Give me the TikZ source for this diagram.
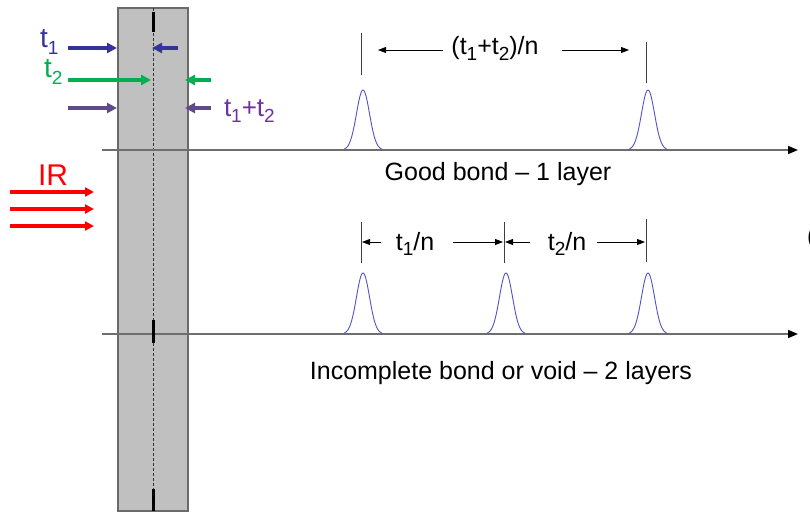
\documentclass[tikz,border=0pt]{standalone}
\usepackage{fontspec}
\setmainfont{Liberation Sans}
\usetikzlibrary{arrows.meta}
\definecolor{slabfill}{HTML}{C0C0C0}
\definecolor{slabedge}{HTML}{6A6A6A}
\definecolor{axisgray}{HTML}{6E6E6E}
\definecolor{pulseblue}{HTML}{5252C2}
\definecolor{tonecol}{HTML}{333399}
\definecolor{ttwocol}{HTML}{00B050}
\definecolor{sumarrow}{HTML}{5F4B8B}
\definecolor{sumtext}{HTML}{7030A0}
\definecolor{irred}{HTML}{FF0000}
\newcommand{\sbs}[1]{\raisebox{-0.22em}{\fontsize{19}{20}\selectfont #1}}
\begin{document}
\begin{tikzpicture}[x=1pt,y=-1pt,
  every node/.style={inner sep=0pt, outer sep=0pt},
  txt/.style={font=\fontsize{25}{30}\selectfont, anchor=base},
  axisline/.style={draw=axisgray, line width=1.5pt, -{Triangle[length=10pt,width=8pt,fill=black,color=black]}},
  pulse/.style={draw=pulseblue, line width=0.9pt},
  tickline/.style={draw=black!75, line width=0.9pt},
  dimarrow/.style={draw=black, line width=0.9pt, -{Triangle[length=8pt,width=6pt]}},
  colarrow/.style={line width=3.4pt, -{Triangle[length=10pt,width=10pt]}},
  irarrow/.style={draw=irred, line width=3.2pt, -{Triangle[length=9pt,width=9pt]}}
]
\useasboundingbox (0,0) rectangle (810,513);

% slab
\path[draw=slabedge, fill=slabfill, line width=1.2pt] (118,8) rectangle (188,511);
\coordinate (midtop) at (153,8);
\coordinate (midbot) at (153,511);
\draw[black!80, line width=0.8pt, dash pattern=on 3pt off 2pt] (midtop) -- (midbot);

% axes
\coordinate (axAs) at (102,150);
\coordinate (axAe) at (798,150);
\coordinate (axBs) at (102,334);
\coordinate (axBe) at (798,334);
\draw[axisline] (axAs) -- (axAe);
\draw[axisline] (axBs) -- (axBe);

% thick marks on the centre line
\coordinate (m1a) at (153,12);  \coordinate (m1b) at (153,32);
\coordinate (m2a) at (153,320); \coordinate (m2b) at (153,343);
\coordinate (m3a) at (153,489); \coordinate (m3b) at (153,511);
\draw[black, line width=3pt] (m1a) -- (m1b);
\draw[black, line width=3pt] (m2a) -- (m2b);
\draw[black, line width=3pt] (m3a) -- (m3b);

% pulses
\foreach \c in {363,648}{
  \draw[pulse] plot[domain=-19:19, samples=60, smooth] ({\c+\x},{150-60*exp(-(\x*\x)/85)});
}
\foreach \c in {363,506,648}{
  \draw[pulse] plot[domain=-19:19, samples=60, smooth] ({\c+\x},{334-61*exp(-(\x*\x)/85)});
}

% upper dimension
\coordinate (uTa) at (361,33); \coordinate (uTb) at (361,75);
\coordinate (uTc) at (646,42); \coordinate (uTd) at (646,83);
\draw[tickline] (uTa) -- (uTb);
\draw[tickline] (uTc) -- (uTd);
\node[txt] (lblsum) at (495,55) {(t\sbs{1}+t\sbs{2})/n};
\coordinate (uA1) at (443,50); \coordinate (uA1t) at (378,50);
\coordinate (uA2) at (562,50); \coordinate (uA2t) at (629,50);
\draw[dimarrow] (uA1) -- (uA1t);
\draw[dimarrow] (uA2) -- (uA2t);
\node[txt] (goodbond) at (498,180) {Good bond – 1 layer};

% lower dimension
\coordinate (lTa) at (361,222); \coordinate (lTb) at (361,263);
\coordinate (lTc) at (504,222); \coordinate (lTd) at (504,263);
\coordinate (lTe) at (646,219); \coordinate (lTf) at (646,262);
\draw[tickline] (lTa) -- (lTb);
\draw[tickline] (lTc) -- (lTd);
\draw[tickline] (lTe) -- (lTf);
\node[txt] (lblone) at (415,250) {t\sbs{1}/n};
\node[txt] (lbltwo) at (567,250) {t\sbs{2}/n};
\coordinate (lA1) at (381,242); \coordinate (lA1t) at (362,242);
\coordinate (lA2) at (453,242); \coordinate (lA2t) at (503,242);
\coordinate (lA3) at (530,242); \coordinate (lA3t) at (505,242);
\coordinate (lA4) at (597,242); \coordinate (lA4t) at (645,242);
\draw[dimarrow] (lA1) -- (lA1t);
\draw[dimarrow] (lA2) -- (lA2t);
\draw[dimarrow] (lA3) -- (lA3t);
\draw[dimarrow] (lA4) -- (lA4t);
\node[txt] (incomplete) at (501,379) {Incomplete bond or void – 2 layers};

% left labels and arrows
\node[txt, text=tonecol, anchor=base west, font=\fontsize{28}{30}\selectfont] (tone) at (40,48) {t\sbs{1}};
\node[txt, text=ttwocol, anchor=base west, font=\fontsize{28}{30}\selectfont] (ttwo) at (44,78) {t\sbs{2}};
\node[txt, text=sumtext, anchor=base west, font=\fontsize{26}{30}\selectfont] (tsum) at (224,117) {t\sbs{1}+t\sbs{2}};
\coordinate (a1s) at (68,48);  \coordinate (a1e) at (117,48);
\coordinate (a2s) at (178,48); \coordinate (a2e) at (152,48);
\coordinate (b1s) at (68,80);  \coordinate (b1e) at (151,80);
\coordinate (b2s) at (211,80); \coordinate (b2e) at (185,80);
\coordinate (c1s) at (68,108); \coordinate (c1e) at (117,108);
\coordinate (c2s) at (211,108); \coordinate (c2e) at (185,108);
\draw[colarrow, draw=tonecol, fill=tonecol] (a1s) -- (a1e);
\draw[colarrow, draw=tonecol, fill=tonecol] (a2s) -- (a2e);
\draw[colarrow, draw=ttwocol, fill=ttwocol] (b1s) -- (b1e);
\draw[colarrow, draw=ttwocol, fill=ttwocol] (b2s) -- (b2e);
\draw[colarrow, draw=sumarrow, fill=sumarrow] (c1s) -- (c1e);
\draw[colarrow, draw=sumarrow, fill=sumarrow] (c2s) -- (c2e);

% IR
\node[anchor=base, text=irred, font=\fontsize{30}{34}\selectfont] (ir) at (53,185) {IR};
\coordinate (r1s) at (10,192); \coordinate (r1e) at (94,192);
\coordinate (r2s) at (10,209); \coordinate (r2e) at (94,209);
\coordinate (r3s) at (10,226); \coordinate (r3e) at (94,226);
\draw[irarrow] (r1s) -- (r1e);
\draw[irarrow] (r2s) -- (r2e);
\draw[irarrow] (r3s) -- (r3e);

% cut-off character at the right edge
\node[txt, anchor=base west] (cutparen) at (807,244) {(};
\end{tikzpicture}
\end{document}
